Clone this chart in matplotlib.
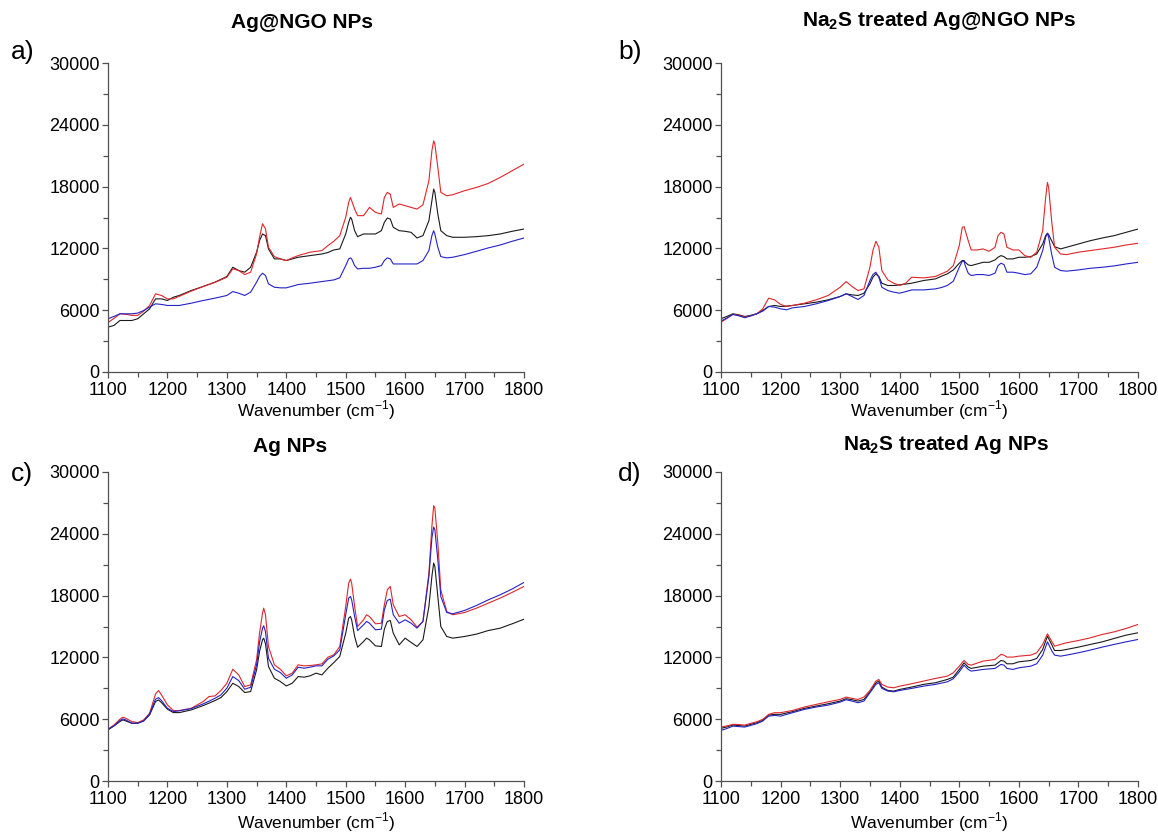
import matplotlib
matplotlib.use("Agg")
import matplotlib.pyplot as plt
from matplotlib.ticker import MultipleLocator

plt.rcParams["font.family"] = ["Liberation Sans", "DejaVu Sans"]
plt.rcParams["mathtext.fontset"] = "custom"
plt.rcParams["mathtext.rm"] = "Liberation Sans"
plt.rcParams["mathtext.bf"] = "Liberation Sans:bold"

# wavenumber grids (cm-1) for each panel
wn_ab = [1100, 1110, 1120, 1130, 1140, 1150, 1160, 1170, 1180, 1190,
         1200, 1210, 1220, 1240, 1260, 1280,
         1300, 1310, 1320, 1330, 1340, 1350, 1355, 1360, 1365, 1370,
         1380, 1390, 1400, 1410, 1420, 1440, 1460, 1470, 1480, 1490,
         1500, 1505, 1508, 1510, 1515, 1520, 1530, 1540, 1550, 1560,
         1565, 1570, 1575, 1580, 1590, 1600, 1610, 1620, 1630, 1640,
         1645, 1648, 1650, 1655, 1660, 1670, 1680, 1700, 1720, 1740,
         1760, 1780, 1800]

wn_c = [1100, 1110, 1120, 1125, 1130, 1140, 1150, 1160, 1170, 1180,
        1185, 1190, 1200, 1210, 1220, 1240, 1260, 1270, 1280, 1290,
        1300, 1310, 1320, 1330, 1340, 1350, 1355, 1360, 1362, 1365,
        1370, 1380, 1390, 1400, 1410, 1420, 1430, 1440, 1450, 1460,
        1470, 1480, 1490, 1500, 1505, 1508, 1510, 1515, 1520, 1530,
        1535, 1540, 1550, 1560, 1565, 1570, 1575, 1580, 1590, 1600,
        1610, 1620, 1630, 1640, 1645, 1648, 1650, 1655, 1660, 1670,
        1680, 1700, 1720, 1740, 1760, 1780, 1800]

wn_d = [1100, 1110, 1120, 1130, 1140, 1150, 1160, 1170, 1180, 1190, 1200,
        1220, 1240, 1260, 1280, 1300, 1310, 1320, 1330, 1340,
        1350, 1360, 1365, 1370, 1380, 1390, 1400, 1420, 1440, 1460,
        1480, 1490, 1500, 1508, 1515, 1520, 1540, 1560, 1570, 1575,
        1580, 1590, 1600, 1620, 1630, 1640, 1648, 1655, 1660, 1670,
        1680, 1700, 1720, 1740, 1760, 1780, 1800]

# a) Ag@NGO NPs
a_black = [4360, 4520, 5000, 5000, 5000, 5170, 5650, 6130, 7100, 7100,
           6940, 7260, 7430, 7910, 8300, 8720,
           9270, 10170, 9850, 9690, 10170, 11620, 12750, 13400, 13240, 11950,
           10980, 10980, 10820, 10980, 11140, 11300, 11460, 11600, 11850, 11950,
           13400, 14530, 15020, 14850, 13720, 13140, 13400, 13400, 13400, 13720,
           14530, 14950, 14850, 14050, 13720, 13660, 13560, 13010, 13240, 14690,
           16630, 17760, 17440, 15340, 13720, 13240, 13080, 13080, 13140, 13240,
           13400, 13660, 13880]
a_red = [4800, 5200, 5650, 5600, 5500, 5500, 5900, 6460, 7590, 7430,
         7100, 7100, 7350, 7850, 8300, 8700,
         9200, 10010, 9850, 9460, 9690, 11460, 13080, 14400, 13900, 12110,
         11200, 10980, 10820, 11080, 11300, 11630, 11790, 12270, 12690, 13240,
         15020, 16470, 16950, 16630, 15820, 15180, 15180, 15980, 15500, 15340,
         16950, 17440, 17270, 15980, 16310, 16150, 15980, 15820, 16240, 18570,
         21470, 22440, 22120, 19860, 17440, 17110, 17210, 17600, 17920, 18310,
         18890, 19540, 20180]
a_blue = [5170, 5390, 5650, 5650, 5650, 5720, 5970, 6300, 6620, 6560,
          6460, 6460, 6460, 6680, 6940, 7170,
          7430, 7810, 7650, 7430, 7750, 8720, 9270, 9590, 9370, 8560,
          8230, 8170, 8170, 8330, 8490, 8620, 8780, 8860, 8940, 9140,
          10330, 10980, 11080, 10980, 10330, 10010, 10070, 10070, 10170, 10330,
          10820, 11080, 10980, 10490, 10490, 10490, 10490, 10490, 10820, 11790,
          13240, 13720, 13400, 12110, 11200, 11080, 11140, 11400, 11720, 12050,
          12330, 12690, 13010]

# b) Na2S treated Ag@NGO NPs
b_black = [5170, 5400, 5650, 5550, 5390, 5500, 5650, 5970, 6360, 6460,
           6360, 6400, 6460, 6620, 6780, 7010,
           7330, 7590, 7490, 7430, 7650, 8560, 9200, 9530, 9270, 8620,
           8400, 8400, 8460, 8540, 8620, 8880, 9040, 9300, 9530, 9910,
           10560, 10820, 10820, 10650, 10400, 10330, 10490, 10650, 10650, 10880,
           11140, 11300, 11200, 10980, 10980, 11140, 11140, 11200, 11460, 12430,
           13240, 13470, 13340, 12750, 12170, 11950, 12110, 12430, 12750, 13010,
           13240, 13560, 13880]
b_red = [4840, 5200, 5590, 5500, 5330, 5450, 5650, 6130, 7170, 7000,
         6560, 6360, 6460, 6680, 7010, 7430,
         8230, 8780, 8300, 7910, 8070, 10170, 11790, 12690, 12110, 9850,
         8940, 8620, 8400, 8620, 9200, 9140, 9270, 9530, 9790, 10330,
         12270, 14050, 14110, 13720, 12750, 11850, 11850, 11950, 11720, 12110,
         13240, 13560, 13400, 12110, 11850, 11850, 11300, 11140, 11630, 13720,
         16950, 18400, 17920, 14690, 12110, 11460, 11400, 11630, 11790, 11950,
         12110, 12330, 12500]
b_blue = [4940, 5250, 5590, 5450, 5270, 5450, 5650, 5910, 6360, 6300,
          6130, 6040, 6230, 6360, 6620, 6940,
          7330, 7590, 7330, 7040, 7430, 8880, 9460, 9690, 9200, 8230,
          7910, 7750, 7650, 7800, 7970, 7970, 8070, 8200, 8400, 8820,
          10170, 10750, 10750, 10330, 9590, 9370, 9460, 9460, 9370, 9590,
          10330, 10560, 10430, 9690, 9690, 9590, 9460, 9530, 10170, 11790,
          13080, 13470, 13080, 11460, 10170, 9850, 9790, 9910, 10070, 10170,
          10300, 10490, 10650]

# c) Ag NPs
c_black = [4960, 5350, 5770, 5930, 5830, 5610, 5610, 5830, 6420, 7710,
           7870, 7610, 6970, 6640, 6640, 6900, 7320, 7560, 7810, 8100,
           8680, 9490, 9170, 8590, 8680, 10790, 12570, 13710, 13870, 13320,
           11120, 9980, 9660, 9230, 9490, 10140, 10080, 10210, 10470, 10300,
           10950, 11500, 12090, 14350, 15810, 15970, 15650, 14030, 12990, 13540,
           13870, 13710, 13120, 13060, 14740, 15490, 15580, 14350, 13220, 13870,
           13450, 13060, 13710, 16950, 19860, 21160, 20830, 17920, 15000, 14030,
           13870, 14030, 14260, 14610, 14840, 15260, 15710]
c_red = [5020, 5440, 5990, 6190, 6090, 5770, 5670, 5930, 6580, 8460,
         8780, 8360, 7390, 6840, 6840, 7060, 7710, 8200, 8260, 8780,
         9490, 10850, 10300, 9170, 9330, 11760, 14350, 16300, 16780, 16140,
         13060, 11280, 10850, 10210, 10470, 11280, 11180, 11210, 11280, 11370,
         12020, 12250, 13060, 16950, 19210, 19600, 19210, 16950, 15000, 15650,
         16140, 15970, 15260, 15320, 17110, 18560, 18890, 17110, 15970, 16140,
         15650, 14940, 15490, 20190, 24720, 26730, 26500, 23100, 18560, 16460,
         16140, 16360, 16780, 17270, 17760, 18310, 18890]
c_blue = [5020, 5350, 5860, 6030, 5930, 5610, 5610, 5830, 6510, 7940,
          8100, 7810, 7060, 6740, 6810, 7030, 7480, 7750, 8030, 8360,
          9010, 10140, 9750, 8910, 9100, 11280, 13450, 14840, 15070, 14510,
          11920, 10850, 10530, 9980, 10300, 11050, 10950, 11050, 11180, 11180,
          11830, 12150, 12730, 16140, 17760, 17920, 17590, 15970, 14610, 15160,
          15490, 15320, 14680, 14740, 16620, 17530, 17660, 16140, 15320, 15650,
          15320, 14840, 15490, 19860, 23590, 24660, 24400, 21480, 17920, 16360,
          16230, 16560, 17040, 17590, 18080, 18640, 19280]

# d) Na2S treated Ag NPs
d_black = [5110, 5250, 5430, 5380, 5330, 5500, 5660, 5880, 6400, 6470, 6470,
           6730, 7050, 7280, 7500, 7760, 7990, 7890, 7760, 7920,
           8660, 9540, 9700, 9120, 8790, 8730, 8890, 9120, 9380, 9540,
           9860, 10090, 10830, 11480, 11060, 10930, 11150, 11250, 11700, 11640,
           11380, 11380, 11570, 11700, 11900, 12770, 14060, 13260, 12670, 12670,
           12770, 13000, 13260, 13510, 13840, 14160, 14390]
d_red = [5240, 5350, 5500, 5480, 5430, 5600, 5750, 5980, 6470, 6630, 6630,
         6850, 7180, 7440, 7690, 7920, 8150, 8020, 7920, 8150,
         8790, 9700, 9860, 9380, 9120, 9050, 9210, 9440, 9700, 9960,
         10180, 10510, 11150, 11700, 11320, 11250, 11640, 11800, 12290, 12220,
         12030, 12030, 12120, 12220, 12450, 13260, 14290, 13580, 13090, 13260,
         13420, 13640, 13900, 14230, 14480, 14810, 15200]
d_blue = [4910, 5100, 5330, 5280, 5240, 5400, 5560, 5820, 6300, 6370, 6300,
          6630, 6950, 7180, 7370, 7660, 7890, 7760, 7600, 7760,
          8570, 9380, 9540, 8990, 8730, 8660, 8790, 8990, 9210, 9380,
          9630, 9930, 10600, 11250, 10830, 10670, 10830, 10930, 11320, 11250,
          10930, 10830, 10990, 11150, 11380, 12220, 13510, 12670, 12220, 12120,
          12220, 12450, 12710, 13000, 13260, 13510, 13740]

titles = ["Ag@NGO NPs", r"Na$_\mathbf{2}$S treated Ag@NGO NPs",
          "Ag NPs", r"Na$_\mathbf{2}$S treated Ag NPs"]
panel_tags = ["a)", "b)", "c)", "d)"]
y_ticks = [0, 6000, 12000, 18000, 24000, 30000]
x_ticks = [1100, 1200, 1300, 1400, 1500, 1600, 1700, 1800]

BLACK = "#1a1a1a"
RED = "#e0262a"
BLUE = "#2323c8"
SPINE = "#505050"

W, H = 1158, 834


def px_rect(left, top, right, bottom):
    return [left / W, 1 - bottom / H, (right - left) / W, (bottom - top) / H]


def style_axes(ax):
    for side in ("top", "right"):
        ax.spines[side].set_visible(False)
    for side in ("left", "bottom"):
        ax.spines[side].set_color(SPINE)
        ax.spines[side].set_linewidth(0.9)
    ax.set_xlim(1100, 1800)
    ax.set_ylim(0, 30000)
    ax.set_xticks(x_ticks)
    ax.set_yticks(y_ticks)
    ax.xaxis.set_minor_locator(MultipleLocator(50))
    ax.yaxis.set_minor_locator(MultipleLocator(3000))
    ax.tick_params(which="both", direction="out", color=SPINE, width=0.9, labelsize=13)
    ax.tick_params(which="major", length=4)
    ax.tick_params(which="minor", length=3.5)
    ax.tick_params(axis="y", pad=2)
    ax.tick_params(axis="x", pad=3)


def main():
    fig = plt.figure(figsize=(W / 100, H / 100), dpi=100)

    panels = [
        (px_rect(108, 63, 524, 372), wn_ab, a_black, a_red, a_blue),
        (px_rect(721, 63, 1138, 372), wn_ab, b_black, b_red, b_blue),
        (px_rect(108, 472, 524, 781), wn_c, c_black, c_red, c_blue),
        (px_rect(721, 472, 1138, 781), wn_d, d_black, d_red, d_blue),
    ]
    for rect, wn, black, red, blue in panels:
        ax = fig.add_axes(rect)
        ax.plot(wn, black, color=BLACK, linewidth=0.8)
        ax.plot(wn, red, color=RED, linewidth=0.8)
        ax.plot(wn, blue, color=BLUE, linewidth=0.8)
        style_axes(ax)

    # titles, panel tags and axis labels placed in figure pixels
    title_pos = [(302, 22), (939, 20), (290, 447), (946, 445)]
    for text, (x, y) in zip(titles, title_pos):
        fig.text(x / W, 1 - y / H, text, ha="center", va="center",
                 fontsize=15, fontweight="bold")

    tag_pos = [(11, 52), (618, 52), (11, 474), (618, 474)]
    for text, (x, y) in zip(panel_tags, tag_pos):
        fig.text(x / W, 1 - y / H, text, ha="left", va="center", fontsize=19)

    for x, y in [(316, 410), (929, 410), (316, 822), (929, 822)]:
        fig.text(x / W, 1 - y / H, r"Wavenumber (cm$^{\mathrm{-1}}$)",
                 ha="center", va="center", fontsize=12.5)

    fig.savefig("out.png", dpi=100)
    plt.close(fig)


if __name__ == "__main__":
    main()
